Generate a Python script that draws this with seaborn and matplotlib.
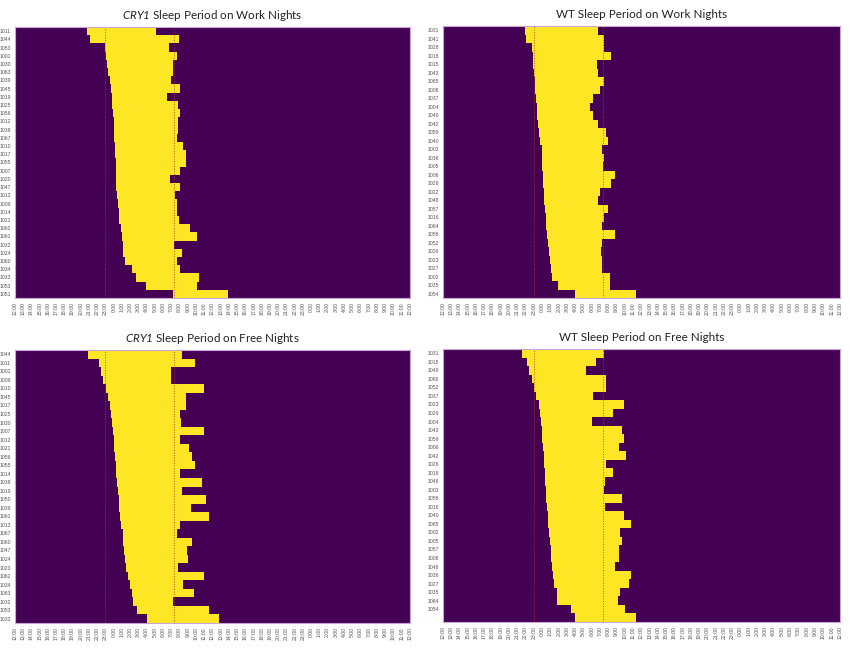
#!/usr/bin/env python3
"""
Sleep period raster: CRY1 vs WT, work nights vs free nights.
Each row is one subject, yellow = asleep, on a 48 h axis starting at 12:00.
Saves out.png
"""
import numpy as np
import matplotlib.pyplot as plt
import seaborn as sns

# hours after 12:00 (noon) on day 1
cry1_work_ids = ["1011", "1044", "1050", "1001", "1030", "1063", "1039", "1045", "1019",
                 "1025", "1056", "1012", "1038", "1067", "1010", "1017", "1055", "1007",
                 "1020", "1047", "1013", "1009", "1014", "1021", "1062", "1061", "1032",
                 "1024", "1060", "1034", "1033", "1053", "1051"]
cry1_work_onset = [8.79, 9.11, 10.89, 11.05, 11.13, 11.25, 11.54, 11.70, 11.78, 11.86, 11.94,
                   11.98, 12.02, 12.10, 12.15, 12.19, 12.23, 12.27, 12.31, 12.35, 12.43, 12.51,
                   12.59, 12.67, 12.83, 12.96, 13.08, 13.20, 13.32, 14.29, 14.78, 15.91, 19.15]
cry1_work_offset = [17.10, 19.88, 18.66, 19.68, 19.15, 19.15, 18.91, 20.12, 18.42, 19.84, 20.12,
                    19.76, 19.76, 19.64, 20.40, 20.73, 20.73, 20.04, 18.83, 20.04, 19.51, 19.68,
                    19.64, 19.92, 21.21, 22.06, 19.31, 20.32, 19.64, 20.12, 22.35, 22.06, 25.83]

wt_work_ids = ["1031", "1041", "1028", "1018", "1015", "1043", "1065", "1008", "1037", "1004",
               "1046", "1042", "1059", "1040", "1003", "1036", "1005", "1006", "1029", "1022",
               "1048", "1057", "1016", "1064", "1058", "1052", "1026", "1023", "1027", "1002",
               "1035", "1054"]
wt_work_onset = [9.90, 10.02, 10.71, 10.87, 10.95, 11.03, 11.11, 11.19, 11.27, 11.35, 11.43,
                 11.52, 11.60, 11.76, 11.88, 11.96, 12.00, 12.08, 12.12, 12.20, 12.28, 12.36,
                 12.44, 12.53, 12.61, 12.73, 12.81, 12.89, 12.97, 13.13, 13.94, 16.00]
wt_work_offset = [18.71, 19.39, 19.52, 20.36, 18.63, 18.71, 19.47, 19.03, 18.06, 17.82, 18.06,
                  18.71, 19.64, 19.92, 19.19, 19.52, 19.35, 20.81, 20.36, 18.99, 18.75, 20.04,
                  19.52, 19.19, 20.81, 19.19, 19.07, 19.15, 19.23, 20.24, 20.16, 23.35]

cry1_free_ids = ["1044", "1011", "1001", "1009", "1010", "1045", "1017", "1025", "1030", "1007",
                 "1012", "1021", "1056", "1055", "1014", "1038", "1019", "1050", "1039", "1061",
                 "1013", "1067", "1060", "1047", "1024", "1020", "1062", "1034", "1063", "1032",
                 "1053", "1033"]
cry1_free_onset = [8.95, 10.24, 10.53, 10.73, 11.05, 11.21, 11.46, 11.70, 11.82, 11.90, 11.98,
                   12.06, 12.15, 12.23, 12.31, 12.39, 12.47, 12.55, 12.63, 12.75, 12.91, 13.08,
                   13.20, 13.28, 13.36, 13.48, 13.77, 13.97, 14.17, 14.37, 14.86, 16.11]
cry1_free_offset = [20.36, 21.82, 19.03, 19.03, 22.96, 20.85, 20.77, 20.00, 20.20, 23.00, 20.04,
                    21.17, 21.50, 21.90, 19.96, 22.67, 20.24, 23.24, 21.34, 23.56, 20.00, 19.64,
                    21.50, 20.89, 21.09, 19.72, 23.00, 20.45, 21.74, 19.15, 23.60, 24.78]

wt_free_ids = ["1031", "1015", "1049", "1066", "1052", "1037", "1023", "1029", "1004", "1043",
               "1059", "1006", "1042", "1026", "1018", "1046", "1003", "1058", "1016", "1040",
               "1065", "1002", "1005", "1057", "1008", "1048", "1036", "1027", "1035", "1064",
               "1054", ""]
wt_free_onset = [9.58, 10.14, 10.38, 10.71, 11.03, 11.27, 11.64, 11.76, 11.84, 11.92, 12.04,
                 12.12, 12.20, 12.28, 12.32, 12.36, 12.40, 12.48, 12.57, 12.65, 12.73, 12.81,
                 12.89, 12.97, 13.05, 13.17, 13.29, 13.41, 13.78, 13.86, 15.39, 16.00]
wt_free_offset = [19.43, 18.50, 17.37, 19.76, 19.72, 18.14, 21.90, 20.61, 18.02, 21.58, 21.90,
                  21.37, 22.18, 19.68, 20.61, 19.60, 19.52, 21.66, 19.60, 21.94, 22.71, 21.45,
                  21.62, 21.33, 21.25, 20.85, 22.79, 22.50, 21.45, 21.17, 22.02, 23.35]

# reference lines (hours after noon): 23:00 and ~7:20
ref_lines = [10.95, 19.35]

tick_labels = [f"{(12 + i) % 24}:00" for i in range(49)]

BINS_PER_HOUR = 12  # 5 minute bins
N_HOURS = 48
N_BINS = N_HOURS * BINS_PER_HOUR
TICK_FONT = ["Liberation Sans", "DejaVu Sans"]


def sleep_matrix(onset, offset):
    centers = (np.arange(N_BINS) + 0.5) / BINS_PER_HOUR
    on = np.array(onset)[:, None]
    off = np.array(offset)[:, None]
    return ((centers >= on) & (centers < off)).astype(int)


def draw_panel(ax, ids, onset, offset, title_text):
    mat = sleep_matrix(onset, offset)
    sns.heatmap(mat, cmap=["#440154", "#fde725"], vmin=0, vmax=1, cbar=False,
                xticklabels=False, yticklabels=False, ax=ax)
    for h in ref_lines:
        ax.axvline(h * BINS_PER_HOUR, color="#b8332a", lw=0.7, ls=":", alpha=0.85)
    ax.set_xticks(np.arange(0, N_BINS + 1, BINS_PER_HOUR))
    ax.set_xticklabels(tick_labels, rotation=90, fontsize=3.7, color="#555555",
                       family=TICK_FONT)
    ax.set_yticks(np.arange(len(ids)) + 0.5)
    ax.set_yticklabels(ids, rotation=0, fontsize=3.7, color="#555555", family=TICK_FONT)
    ax.tick_params(length=0, pad=3)
    for s in ax.spines.values():
        s.set_visible(True)
        s.set_color("#c9a6d6")
        s.set_linewidth(0.8)
    ax.set_title(title_text, fontsize=8.4, pad=6, color="#222222")


def main():
    sns.set_style("white")
    plt.rcParams["font.family"] = ["Lato", "DejaVu Sans"]
    plt.rcParams["mathtext.fontset"] = "custom"
    # digits inside math fall back to the rm font, so make that italic too
    plt.rcParams["mathtext.rm"] = "Lato:italic"
    plt.rcParams["mathtext.it"] = "Lato:italic"

    fig = plt.figure(figsize=(8.5, 6.48), dpi=100)
    W, H = 850, 648

    def box(x0, y0, x1, y1):
        return [x0 / W, 1 - y1 / H, (x1 - x0) / W, (y1 - y0) / H]

    ax_tl = fig.add_axes(box(15, 27, 410, 298))
    ax_tr = fig.add_axes(box(443, 26, 840, 298))
    ax_bl = fig.add_axes(box(15, 350, 410, 623))
    ax_br = fig.add_axes(box(443, 349, 840, 622))

    draw_panel(ax_tl, cry1_work_ids, cry1_work_onset, cry1_work_offset,
               r"$\mathit{CRY1}$ Sleep Period on Work Nights")
    draw_panel(ax_tr, wt_work_ids, wt_work_onset, wt_work_offset,
               "WT Sleep Period on Work Nights")
    draw_panel(ax_bl, cry1_free_ids, cry1_free_onset, cry1_free_offset,
               r"$\mathit{CRY1}$ Sleep Period on Free Nights")
    draw_panel(ax_br, wt_free_ids, wt_free_onset, wt_free_offset,
               "WT Sleep Period on Free Nights")

    fig.savefig("out.png", dpi=100)
    plt.close(fig)


if __name__ == "__main__":
    main()
